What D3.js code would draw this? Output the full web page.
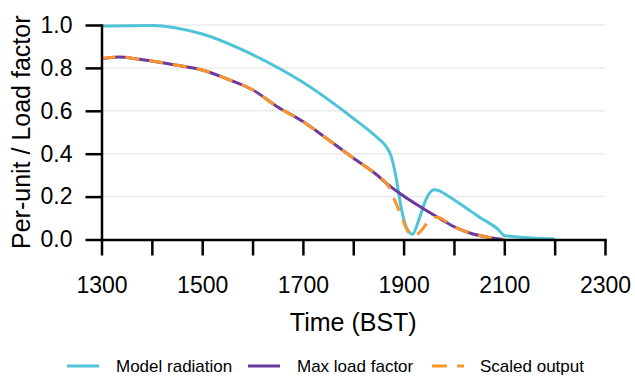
<!DOCTYPE html>
<html>
<head>
<meta charset="utf-8">
<script src="https://cdn.jsdelivr.net/npm/d3@7"></script>
<style>
  body { margin: 0; background: #fff; }
  text { font-family: Arial, "Liberation Sans", sans-serif; fill: #000; }
  .axis path, .axis line { stroke: #000; stroke-width: 2.5px; }
  .grid line { stroke: #ebebeb; stroke-width: 1.5px; }
</style>
</head>
<body>
<div id="chart"></div>
<script>
'use strict'
// time in hours (BST), values per-unit
let radHours = [13.0, 14.0, 15.0, 16.0, 17.0, 18.0, 18.5, 18.65, 18.75, 18.85, 18.95, 19.05, 19.18, 19.3, 19.45, 19.6, 19.7, 19.9, 20.0, 20.5, 20.9, 21.0, 22.0]
let radValues = [0.995, 0.998, 0.958, 0.862, 0.733, 0.565, 0.470, 0.435, 0.39, 0.29, 0.15, 0.06, 0.025, 0.09, 0.19, 0.232, 0.228, 0.20, 0.185, 0.105, 0.042, 0.018, 0.002]

let loadHours = [13.0, 13.35, 13.75, 14.0, 14.5, 15.0, 15.5, 16.0, 16.5, 17.0, 17.5, 18.0, 18.5, 18.66, 19.0, 19.33, 19.66, 20.0, 20.33, 20.7, 21.0]
let loadValues = [0.843, 0.851, 0.84, 0.832, 0.812, 0.79, 0.748, 0.698, 0.618, 0.55, 0.466, 0.38, 0.295, 0.262, 0.203, 0.153, 0.106, 0.06, 0.029, 0.01, 0.0]

let scaledHours = [13.0, 13.35, 13.75, 14.0, 14.5, 15.0, 15.5, 16.0, 16.5, 17.0, 17.5, 18.0, 18.5, 18.66, 18.72, 18.83, 18.96, 19.08, 19.19, 19.33, 19.49, 19.66, 20.0, 20.33, 20.7, 21.0]
let scaledValues = [0.843, 0.851, 0.84, 0.832, 0.812, 0.79, 0.748, 0.698, 0.618, 0.55, 0.466, 0.38, 0.295, 0.262, 0.24, 0.18, 0.105, 0.04, 0.016, 0.036, 0.083, 0.104, 0.06, 0.029, 0.01, 0.0]

let xTicks = [13, 14, 15, 16, 17, 18, 19, 20, 21, 22, 23]
let yTicks = [0, 0.2, 0.4, 0.6, 0.8, 1.0]

let series = [
  {name: "Model radiation", hours: radHours, values: radValues, color: "#4dc4d8", dash: null},
  {name: "Max load factor", hours: loadHours, values: loadValues, color: "#6b3a9e", dash: null},
  {name: "Scaled output", hours: scaledHours, values: scaledValues, color: "#f9952a", dash: "14,10"}
]

let W = 635, H = 376
let margins = {top: 25, left: 101.5, right: 30, bottom: 136.5}

let svg = d3.select("#chart").append("svg")
  .attr("width", W)
  .attr("height", H)

let x = d3.scaleLinear().domain([13, 23]).range([margins.left, W - margins.right])
let y = d3.scaleLinear().domain([0, 1]).range([H - margins.bottom, margins.top])

// gridlines
svg.append("g").attr("class", "grid")
  .selectAll("line")
  .data(yTicks.filter(d => d > 0))
  .enter().append("line")
  .attr("x1", x(13)).attr("x2", x(23))
  .attr("y1", d => y(d)).attr("y2", d => y(d))

let line = d3.line()
  .x(d => x(d[0]))
  .y(d => y(d[1]))
  .curve(d3.curveMonotoneX)

let lines = svg.append("g")
series.forEach(function(s){
  let pts = s.hours.map((h, i) => [h, s.values[i]])
  lines.append("path")
    .datum(pts)
    .attr("fill", "none")
    .attr("stroke", s.color)
    .attr("stroke-width", 3)
    .attr("stroke-dasharray", s.dash)
    .attr("d", line)
})

// axes
let xAxis = svg.append("g").attr("class", "axis")
  .attr("transform", "translate(0," + y(0) + ")")
  .call(d3.axisBottom(x)
    .tickValues(xTicks)
    .tickSize(16)
    .tickSizeOuter(0)
    .tickPadding(21)
    .tickFormat(d => ((d - 13) % 2 === 0) ? String(d * 100) : ""))
xAxis.selectAll("text").style("font-size", "23px")

let yAxis = svg.append("g").attr("class", "axis")
  .attr("transform", "translate(" + x(13) + ",0)")
  .call(d3.axisLeft(y)
    .tickValues(yTicks)
    .tickSize(16)
    .tickSizeOuter(0)
    .tickPadding(13)
    .tickFormat(d3.format(".1f")))
yAxis.selectAll("text").style("font-size", "23px")
svg.selectAll(".axis path").attr("stroke-linecap", "square")

// axis titles
svg.append("text")
  .attr("x", (x(13) + x(23)) / 2)
  .attr("y", 331)
  .attr("text-anchor", "middle")
  .style("font-size", "25px")
  .text("Time (BST)")

svg.append("text")
  .attr("transform", "translate(30," + ((y(0) + y(1)) / 2) + ") rotate(-90)")
  .attr("text-anchor", "middle")
  .style("font-size", "25px")
  .text("Per-unit / Load factor")

// legend
let legendX = [67, 248, 432]
let legend = svg.append("g")
series.forEach(function(s, i){
  let g = legend.append("g").attr("transform", "translate(" + legendX[i] + ",366)")
  g.append("line")
    .attr("x1", 0).attr("x2", 32)
    .attr("y1", 0).attr("y2", 0)
    .attr("stroke", s.color)
    .attr("stroke-width", 3)
    .attr("stroke-dasharray", s.dash ? "15,10" : null)
  g.append("text")
    .attr("x", i === 2 ? 48 : 49)
    .attr("y", 5.5)
    .style("font-size", "17px")
    .text(s.name)
})
</script>
</body>
</html>
